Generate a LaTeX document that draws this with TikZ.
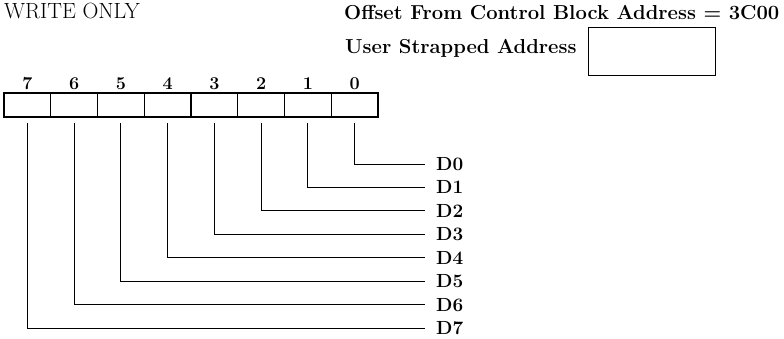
\documentclass[tikz,border=0pt]{standalone}
\usepackage{fontspec}
\usepackage{tikz}
\usetikzlibrary{positioning,calc}

\begin{document}
\begin{tikzpicture}[
    x=1pt, y=-1pt,
    bitcell/.style={rectangle, draw, line width=1.1pt, minimum width=46.75pt, minimum height=24pt, inner sep=0pt},
    bitnum/.style={font=\fontsize{18}{18}\selectfont\bfseries, inner sep=0pt},
    dline/.style={font=\fontsize{19}{19}\selectfont\bfseries, anchor=west, inner xsep=11pt, inner ysep=0pt},
    wire/.style={line width=0.9pt}
]
    \useasboundingbox (0,0) rectangle (784,338);

    % Headings
    \node[anchor=base west, inner sep=0pt, font=\fontsize{22}{22}\selectfont] (mode) at (4,18) {WRITE ONLY};
    \node[anchor=base west, inner sep=0pt, font=\fontsize{20.2}{20.2}\selectfont\bfseries] (offset) at (344,19) {Offset From Control Block Address = 3C00};
    \node[anchor=base west, inner sep=0pt, font=\fontsize{20.2}{20.2}\selectfont\bfseries] (user) at (345,53) {User Strapped Address};
    \node[draw, line width=0.9pt, minimum width=127pt, minimum height=48pt, inner sep=0pt] (strap) at (651.5,51) {};

    % Register bits and lines
    \foreach \i in {0,...,7} {
        \node[bitcell] (b\i) at ({4+46.75*(7-\i)+23.375},105) {};
        \node[bitnum] (n\i) at ({4+46.75*(7-\i)+23.375},84) {\i};
        \node[dline] (d\i) at (425,{164+23.45*\i}) {D\i};
        \draw[wire] ([yshift=-5pt]b\i.south) |- (d\i.west);
    }
\end{tikzpicture}
\end{document}
